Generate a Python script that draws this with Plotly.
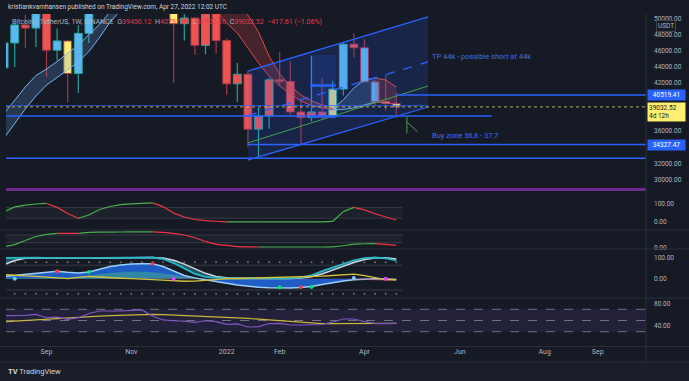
import pandas as pd
import plotly.graph_objects as go
from plotly.subplots import make_subplots

# ---------------- data ----------------
weeks = pd.date_range("2021-08-09", periods=38, freq="7D")

opens = [43900, 47000, 49250, 48850, 51750, 46100, 47250, 43200, 48200, 54950,
         61500, 61300, 61300, 63300, 65500, 59000, 57300, 49400, 50100, 46700,
         50800, 47300, 41900, 43100, 36250, 37900, 42400, 42200, 38400, 37700,
         38400, 37800, 41250, 46850, 46400, 42150, 39700, 39450.12]
highs = [48100, 49500, 50500, 51900, 52900, 48800, 47400, 49200, 56100, 62900,
         67000, 63700, 64300, 69000, 66300, 59900, 59000, 51900, 50200, 51900,
         52100, 47600, 44500, 43500, 38900, 42700, 45850, 44750, 39850, 45400,
         42600, 42300, 47000, 48200, 47450, 42400, 42950, 40797.31]
lows = [43700, 44000, 46400, 46500, 42800, 44800, 39600, 40750, 47000, 53900,
        59500, 58000, 59400, 62300, 55600, 53300, 42000, 47300, 45500, 45600,
        45700, 40500, 39650, 34000, 32900, 36300, 41700, 38000, 34300, 37200,
        37550, 37600, 40450, 45200, 42100, 39200, 38550, 37700]
closes = [47000, 49250, 48850, 51750, 46100, 47250, 43200, 48200, 54950, 61500,
          61300, 61300, 63300, 65500, 59000, 57300, 49400, 50100, 46700, 50800,
          47300, 41900, 43100, 36250, 37900, 42400, 42200, 38400, 37700, 38400,
          37800, 41250, 46850, 46400, 42150, 39700, 39450, 39032.52]
body_state = ["B", "B", "R", "B", "R", "B", "Y", "B", "B", "B",
              "R", "B", "B", "B", "R", "R", "Y", "R", "R", "R",
              "R", "R", "R", "R", "R", "R", "R", "R", "R", "R",
              "R", "Y", "B", "R", "B", "B", "Y", "Y"]

cloud_top = [38200, 39890, 41510, 42940, 43750, 44690, 45750, 46750, 48050, 49300,
             50900, 52500, 54000, 55500, 57000, 58000, 58500, 58000, 57000, 56000,
             55000, 53500, 51900, 50480, 48370, 45370, 43130, 41630, 40510, 39760,
             39260, 38800, 39900, 41380, 42380, 42630, 42380, 41510]
cloud_bot = [35150, 37020, 38770, 40390, 41760, 42690, 43630, 44630, 45940, 47680,
             49610, 51100, 52500, 54000, 55500, 56500, 57000, 56000, 54500, 53000,
             51000, 49490, 48240, 46370, 44500, 42880, 41630, 40640, 39760, 39200,
             38890, 38650, 38700, 38900, 39260, 39640, 39510, 39390]
cloud_segments = [(0, 16, "blue"), (16, 31, "red"), (31, 35, "blue"), (35, 37, "red")]

osc1 = [57, 84, 94, 100, 103, 81, 47, 20, 38, 69, 86, 96, 101, 104, 106, 85, 49, 27, 13, 6,
        3, 0, 0, 0, 0, 0, 0, 0, 0, 0, 0, 2, 57, 81, 67, 45, 27, 10]
osc2 = [4, 17, 44, 70, 84, 91, 90.5, 90, 97, 99, 99, 99.5, 100, 100, 100, 97, 91, 80, 62, 38,
        19, 12, 5, 3, 2, 2, 2, 2, 2, 2, 2, 3, 10, 21, 23, 23.5, 19, 13]

wave = [10, 15, 21, 27, 31, 35, 30, 27, 31, 43, 57, 64, 69, 70, 70, 57, 36, 15, 3, -6,
        -14, -21, -29, -36, -40, -42, -43, -43, -41, -36, -27, -18, -11, -5, -1, 0, -1, -4]
money_flow = [5, 3, 2, 4, 6, 5, 4, 8, 14, 22, 27, 30, 32, 33, 30, 25, 18, 10, 4, 0,
              -3, -5, -6, -6, -5, -4, -4, -5, -5, -4, -3, -2, -1, -3, -6, -9, -10, -8]
stoch_k = [97, 98, 98, 98, 97, 96, 95, 95, 96, 97, 98, 99, 99, 99, 99, 92, 73, 48, 22, 8,
           3, 1, 1, 1, 1, 1, 1, 1, 6, 16, 35, 52, 70, 86, 96, 99, 95, 86]
stoch_d = [66, 85, 95, 97, 97, 97, 96, 95, 95, 96, 97, 98, 99, 99, 99, 97, 86, 68, 45, 25,
           10, 4, 2, 1, 1, 1, 1, 1, 3, 9, 22, 40, 58, 76, 90, 97, 98, 92]
wave_yellow = [19, 15, 13, 11, 8, 4, 0, 6, 11, 8, 4, 2, 0, -1, -4, -7, -11, -12, -11, -7,
               -2, 0, 1, 2, 3, 4, 5, 6, 7, 9, 12, 15, 19, 21, 14, 4, -4, -5]
sig_dates = ["2021-08-16", "2021-09-13", "2021-10-04", "2021-11-15", "2021-11-29",
             "2022-02-07", "2022-02-21", "2022-02-28", "2022-03-28", "2022-04-18"]
sig_vals = [0, 35, 31, 70, 0, -40, -39, -39, 3, 0]
sig_colors = ["#5FD0F5", "#F23645", "#00E676", "#F23645", "#E040FB",
              "#00E676", "#F23645", "#00E676", "#7FC8F8", "#E040FB"]

rsi = [58.6, 58.6, 59.3, 61, 55, 56, 52, 55, 62.5, 67, 66.4, 67, 68, 68.8, 58, 51, 49.6, 49,
       46.8, 49.6, 47.9, 43.2, 43.8, 38.4, 39, 44.6, 45, 42, 42, 42, 42.9, 47.3, 52.7, 52.7,
       47.9, 45, 44.3, 45]
rsi_ma = [47.9, 49.1, 50.4, 51.4, 52.7, 53.6, 54.5, 55.7, 56.8, 57.7, 58.6, 59.3, 59.8, 60.5,
          61, 60.5, 59.8, 58.9, 58, 57.3, 56.8, 55.9, 54.8, 53.9, 52.3, 50.9, 49.1, 47.7, 46.4,
          45.4, 44.6, 44.3, 44.3, 44.5, 44.6, 44.8, 45, 45]

tick_dates = ["2021-09-06", "2021-11-01", "2022-01-03", "2022-02-07", "2022-04-04",
              "2022-06-06", "2022-08-01", "2022-09-05"]
tick_text = ["Sep", "Nov", "2022", "Feb", "Apr", "Jun", "Aug", "Sep"]
# ticks hidden behind the price-label boxes are left out
price_ticks = [30000, 32000, 36000, 42000, 44000, 46000, 48000, 50000]

# drawings (date, price anchors)
channel_x = ["2022-01-17", "2022-05-16"]
channel_upper = [43500, 50240]
channel_mid = [37950, 44630]
channel_lower = [32400, 39015]
trend_green = [34530, 41630]
box_x = ["2022-02-27", "2022-03-16"]
box_y = [37800, 45500]
box_mid = 41700
level_resist = 40519.41
level_last = 39032.52
level_buy_top = 37890
level_support = 34327.47
level_low = 32620
arrow_x = ["2022-05-02", "2022-05-09"]
arrow_y = [37805, 35736, 37145, 35935]

# ---------------- styling ----------------
BG = "#161A25"
FONT = "Roboto"
GRID = "#2A2E39"
BLUE_LINE = "#2962FF"
TXT = "#B2B5BE"
body_fill = {"B": "#5DB8F2", "R": "#EF5350", "Y": "#FFEE70"}
UP_C, DN_C = "#26A69A", "#A63A47"
WEEK_MS = 7 * 24 * 3600 * 1000

fig = make_subplots(rows=5, cols=1, shared_xaxes=True, vertical_spacing=0.01)

# ---- main pane: candles ----
up = [c >= o for o, c in zip(opens, closes)]
edge_cols = [UP_C if u else DN_C for u in up]
fig.add_trace(go.Bar(x=weeks, base=lows, y=[h - l for h, l in zip(highs, lows)],
                     width=0.11 * WEEK_MS, marker=dict(color=edge_cols, line=dict(width=0))),
              row=1, col=1)
fig.add_trace(go.Bar(x=weeks, base=[min(o, c) for o, c in zip(opens, closes)],
                     y=[max(abs(c - o), 120) for o, c in zip(opens, closes)],
                     width=0.74 * WEEK_MS,
                     marker=dict(color=[body_fill[s] for s in body_state],
                                 line=dict(color=edge_cols, width=1))),
              row=1, col=1)

# ---- cloud ribbons ----
seg_style = {"blue": ("#78B4EE", "rgba(100,160,230,0.22)"),
             "red": ("#E04848", "rgba(200,60,60,0.28)")}
for i0, i1, col in cloud_segments:
    lc, fc = seg_style[col]
    xs = weeks[i0:i1 + 1]
    fig.add_trace(go.Scatter(x=xs, y=cloud_top[i0:i1 + 1], mode="lines",
                             line=dict(color=lc, width=1)), row=1, col=1)
    fig.add_trace(go.Scatter(x=xs, y=cloud_bot[i0:i1 + 1], mode="lines", fill="tonexty",
                             fillcolor=fc, line=dict(color=lc, width=1)), row=1, col=1)


def slope_coloured(series, row, width=1.2):
    gx, gy, rx, ry = [], [], [], []
    for i in range(1, len(series)):
        tx, ty = (gx, gy) if series[i] >= series[i - 1] else (rx, ry)
        tx += [weeks[i - 1], weeks[i], None]
        ty += [series[i - 1], series[i], None]
    fig.add_trace(go.Scatter(x=gx, y=gy, mode="lines", line=dict(color="#4CAF50", width=width)),
                  row=row, col=1)
    fig.add_trace(go.Scatter(x=rx, y=ry, mode="lines", line=dict(color="#F23645", width=width)),
                  row=row, col=1)


slope_coloured(osc1, 2)
slope_coloured(osc2, 3)

# ---- wave trend pane ----
fig.add_trace(go.Scatter(x=weeks, y=[77] * len(weeks), mode="markers",
                         marker=dict(size=2, color="#6B6F7A")), row=4, col=1)
fig.add_trace(go.Scatter(x=weeks, y=[-70] * len(weeks), mode="markers",
                         marker=dict(size=2, color="#6B6F7A")), row=4, col=1)
fig.add_trace(go.Scatter(x=weeks, y=wave, mode="lines", fill="tozeroy",
                         fillcolor="rgba(33,100,215,0.9)", line=dict(color="#9BD0F5", width=1.5)),
              row=4, col=1)
fig.add_trace(go.Scatter(x=weeks, y=[max(v, 0) for v in money_flow], mode="lines", fill="tozeroy",
                         fillcolor="rgba(80,200,120,0.40)", line=dict(width=0)), row=4, col=1)
fig.add_trace(go.Scatter(x=weeks, y=[min(v, 0) for v in money_flow], mode="lines", fill="tozeroy",
                         fillcolor="rgba(235,80,100,0.45)", line=dict(width=0)), row=4, col=1)
fig.add_trace(go.Scatter(x=weeks, y=stoch_d, mode="lines",
                         line=dict(color="#D0D4DC", width=1.5)), row=4, col=1)
fig.add_trace(go.Scatter(x=weeks, y=stoch_k, mode="lines", fill="tonexty",
                         fillcolor="rgba(50,180,200,0.40)", line=dict(color="#2BB5C4", width=1.8)),
              row=4, col=1)
fig.add_trace(go.Scatter(x=weeks, y=wave_yellow, mode="lines",
                         line=dict(color="#D6C23A", width=1.3)), row=4, col=1)
fig.add_trace(go.Scatter(x=sig_dates, y=sig_vals, mode="markers",
                         marker=dict(size=4, color=sig_colors)), row=4, col=1)

# ---- RSI pane ----
fig.add_trace(go.Scatter(x=weeks, y=rsi_ma, mode="lines", line=dict(color="#C9B53C", width=1.2)),
              row=5, col=1)
fig.add_trace(go.Scatter(x=weeks, y=rsi, mode="lines", line=dict(color="#7E57C2", width=1.2)),
              row=5, col=1)

# ---------------- axes ----------------
H = 332.0  # plot height in px (t=14, b=35)
def frac(ypx):
    return (346 - ypx) / H

doms = [(frac(188.5), 1.0), (frac(229.5), frac(190.5)), (frac(248.5), frac(230.5)),
        (frac(297.5), frac(249.5)), (0.0, frac(298.5))]
ranges = [(28853, 50611), (-43.3, 175.8), (-7.8, 109.1), (-87.9, 136.4), (4.46, 89.3)]
ticks = [(price_ticks, [f"{v:.2f}" for v in price_ticks]),
         ([0, 100], ["0.00", "100.00"]), ([0], ["0.00"]),
         ([0, 100], ["0.00", "100.00"]), ([40, 80], ["40.00", "80.00"])]
x_range = ["2021-08-10 06:00", "2022-10-06 21:30"]
for i in range(5):
    key = "" if i == 0 else str(i + 1)
    fig.layout["yaxis" + key].update(
        domain=doms[i], range=ranges[i], side="right", showgrid=False, zeroline=False,
        tickvals=ticks[i][0], ticktext=ticks[i][1], ticks="", ticklabelstandoff=7,
        tickfont=dict(family=FONT, size=6.5, color=TXT), fixedrange=True)
    fig.layout["xaxis" + key].update(
        range=x_range, showgrid=False, zeroline=False, showline=False,
        tickvals=tick_dates, ticktext=tick_text, ticks="",
        showticklabels=(i == 4), tickfont=dict(family=FONT, size=7, color=TXT))

# ---------------- shapes ----------------
shapes = []
def hline(y, x0, x1, color, width=1.5, dash="solid", xref="x", yref="y", layer="above"):
    shapes.append(dict(type="line", xref=xref, yref=yref, x0=x0, x1=x1, y0=y, y1=y,
                       line=dict(color=color, width=width, dash=dash), layer=layer))

# channel
shapes.append(dict(type="path", xref="x", yref="y", layer="above", line=dict(width=0),
                   fillcolor="rgba(41,98,255,0.16)",
                   path=f"M {channel_x[0]},{channel_upper[0]} L {channel_x[1]},{channel_upper[1]} "
                        f"L {channel_x[1]},{channel_lower[1]} L {channel_x[0]},{channel_lower[0]} Z"))
for ys, dash in [(channel_upper, "solid"), (channel_lower, "solid"), (channel_mid, "dash")]:
    shapes.append(dict(type="line", xref="x", yref="y", x0=channel_x[0], x1=channel_x[1],
                       y0=ys[0], y1=ys[1], line=dict(color=BLUE_LINE, width=1.3, dash=dash),
                       layer="above"))
shapes.append(dict(type="line", xref="x", yref="y", x0=channel_x[0], x1=channel_x[1],
                   y0=trend_green[0], y1=trend_green[1], line=dict(color="#43A047", width=1),
                   layer="above"))
# box
shapes.append(dict(type="rect", xref="x", yref="y", x0=box_x[0], x1=box_x[1], y0=box_y[0],
                   y1=box_y[1], fillcolor="rgba(41,98,255,0.18)", line=dict(width=0),
                   layer="above"))
hline(box_mid, box_x[0], box_x[1], BLUE_LINE, width=2.5)
hline(box_y[0], box_x[0], box_x[1], BLUE_LINE, width=2)
# levels
hline(level_resist, "2022-04-25", "2023-06-01", BLUE_LINE)
hline(39200, "2021-07-01", channel_x[1], "rgba(41,98,255,0.7)", width=1)
hline(level_last, 0, 1, "rgba(205,195,110,0.85)", width=1, dash="dot", xref="paper")
hline(level_buy_top, "2021-07-01", "2022-06-27", BLUE_LINE)
hline(level_support, channel_x[0], "2023-06-01", BLUE_LINE)
hline(level_low, 0, 1, BLUE_LINE, xref="paper")
# green arrow
shapes.append(dict(type="line", xref="x", yref="y", x0=arrow_x[0], x1=arrow_x[0],
                   y0=arrow_y[0], y1=arrow_y[1], line=dict(color="#43A047", width=1)))
shapes.append(dict(type="line", xref="x", yref="y", x0=arrow_x[0], x1=arrow_x[1],
                   y0=arrow_y[2], y1=arrow_y[3], line=dict(color="#43A047", width=1)))
# purple bottom line of main pane
shapes.append(dict(type="line", xref="paper", yref="paper", x0=0, x1=1,
                   y0=frac(189.5), y1=frac(189.5), line=dict(color="#6E2A8E", width=3)))
# oscillator bands
last_x = "2022-04-29"
for (lo, hi), ax in [((20, 80), "2"), ((30, 80), "3")]:
    shapes.append(dict(type="rect", xref="x" + ax, yref="y" + ax, x0=weeks[0], x1=last_x,
                       y0=lo, y1=hi, fillcolor="rgba(120,123,134,0.07)", line=dict(width=0),
                       layer="below"))
    for lv in (lo, hi):
        hline(lv, weeks[0], last_x, "#363A45", width=1, xref="x" + ax, yref="y" + ax,
              layer="below")
for lv in (63, -53):
    hline(lv, weeks[0], last_x, "#363A45", width=1, xref="x4", yref="y4", layer="below")
# RSI band
shapes.append(dict(type="rect", xref="paper", yref="y5", x0=0, x1=1, y0=30, y1=70,
                   fillcolor="rgba(126,87,194,0.13)", line=dict(width=0), layer="below"))
for lv in (70, 50, 30):
    hline(lv, 0, 1, "#6E7180", width=1, dash="dash", xref="paper", yref="y5", layer="below")
# separators
for ypx in (230, 249, 298, 346.5, 362):
    shapes.append(dict(type="line", xref="paper", yref="paper", x0=-0.02, x1=1.08,
                       y0=frac(ypx), y1=frac(ypx), line=dict(color=GRID, width=1)))
shapes.append(dict(type="line", xref="paper", yref="paper", x0=1, x1=1, y0=frac(362), y1=1,
                   line=dict(color=GRID, width=1)))
shapes.append(dict(type="rect", xref="paper", yref="paper", x0=-0.02, x1=1.08, y0=frac(382),
                   y1=frac(362.5), fillcolor="#1A1E29", line=dict(width=0), layer="below"))

# ---------------- annotations ----------------
ann = []
red = "#F23645"
sp = "\u2002"
ann.append(dict(xref="paper", yref="paper", x=0, y=frac(7), xanchor="left", yanchor="middle",
                showarrow=False, font=dict(family=FONT, size=6.5, color="#D1D4DC"),
                text="kristiankvamhansen published on TradingView.com, Apr 27, 2022 12:02 UTC"))
ann.append(dict(xref="paper", yref="paper", x=4 / 640, y=frac(22), xanchor="left",
                yanchor="middle", showarrow=False, font=dict(family=FONT, size=7, color=TXT),
                text=(f"Bitcoin / TetherUS, 1W, BINANCE{sp}"
                      f"O<span style='color:{red}'>39450.12</span>{sp}"
                      f"H<span style='color:{red}'>40797.31</span>{sp}"
                      f"L<span style='color:{red}'>37702.26</span>{sp}"
                      f"C<span style='color:{red}'>39032.52{sp}−417.61 (−1.06%)</span>")))
ann.append(dict(xref="x", yref="y", x="2022-05-17", y=45374, xanchor="left", yanchor="middle",
                showarrow=False, font=dict(family=FONT, size=7.5, color="#3D6CF5"),
                text="TP 44k - possible short at 44k"))
ann.append(dict(xref="x", yref="y", x="2022-05-17", y=35400, xanchor="left", yanchor="middle",
                showarrow=False, font=dict(family=FONT, size=7.5, color="#3D6CF5"),
                text="Buy zone 36,8 - 37,7"))
for y, txt in [(level_resist, "40519.41"), (level_support, "34327.47")]:
    ann.append(dict(xref="paper", yref="y", x=1, y=y, xanchor="left", yanchor="middle",
                    xshift=1, showarrow=False, bgcolor=BLUE_LINE, width=35, borderpad=1,
                    font=dict(family=FONT, size=6.5, color="#FFFFFF"), text=txt))
ann.append(dict(xref="paper", yref="y", x=1, y=level_last, xanchor="left", yanchor="top",
                xshift=1, yshift=5, showarrow=False, bgcolor="#FFEE70", width=35, borderpad=1,
                align="left", font=dict(family=FONT, size=6.5, color="#131722"),
                text="39032.52<br>4d 12h"))
ann.append(dict(xref="paper", yref="paper", x=1, y=1, xanchor="left", yanchor="top",
                xshift=10, yshift=-6, showarrow=False, bgcolor=BG, bordercolor="#434651",
                borderwidth=1, borderpad=1, font=dict(family=FONT, size=6.5, color=TXT),
                text="USDT"))
ann.append(dict(xref="paper", yref="paper", x=0, y=frac(371), xanchor="left", yanchor="middle",
                showarrow=False, font=dict(family=FONT, size=7.5, color="#D1D4DC"),
                text="<b>TV</b> TradingView"))

fig.update_layout(width=689, height=381, margin=dict(l=6, r=43, t=14, b=35),
                  paper_bgcolor=BG, plot_bgcolor=BG, showlegend=False, barmode="overlay",
                  hovermode=False, shapes=shapes, annotations=ann,
                  font=dict(family=FONT, color=TXT))
fig.write_html("out.html", config={"displayModeBar": False, "staticPlot": True},
               post_script="document.body.style.margin='0';"
                           "document.body.style.background='#161A25';"
                           "document.body.style.overflow='hidden';")
